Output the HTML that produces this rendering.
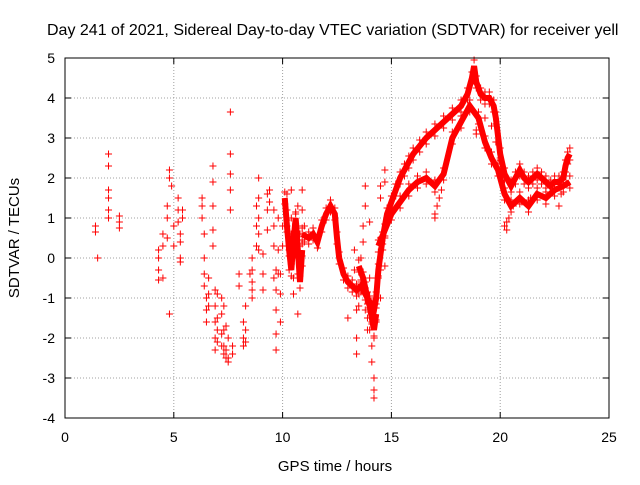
<!DOCTYPE html>
<html><head><meta charset="utf-8"><style>
body{margin:0;background:#fff}
svg{font-family:"Liberation Sans",sans-serif;font-size:14px}
</style></head><body>
<svg id="chart" width="640" height="480">
<text x="47" y="35" font-size="16">Day 241 of 2021, Sidereal Day-to-day VTEC variation (SDTVAR) for receiver yell</text>
<g id="grid"></g>
<g id="ticks"></g>
<g id="trace"></g>
<g id="pts"></g>
<rect x="65" y="58" width="544" height="360" fill="none" stroke="#000" stroke-width="1"/>
<text x="335" y="471" text-anchor="middle" font-size="15">GPS time / hours</text>
<text transform="translate(19,238) rotate(-90)" text-anchor="middle" font-size="15">SDTVAR / TECUs</text>
</svg>
<script>
const xTicks=[0,5,10,15,20,25];
const yTicks=[-4,-3,-2,-1,0,1,2,3,4,5];
const ptX=[1.4,1.4,1.5,2.0,2.0,2.0,2.0,2.0,2.0,2.5,2.5,2.5,4.3,4.3,4.3,4.3,4.5,4.5,4.5,4.7,4.7,4.7,4.8,4.8,4.8,4.9,5.0,5.0,5.2,5.2,5.2,5.3,5.3,5.3,5.3,5.4,5.4,
6.3,6.3,6.3,6.4,6.4,6.4,6.4,6.5,6.5,6.5,6.6,6.6,6.6,6.8,6.8,6.8,6.8,6.8,6.9,6.9,6.9,6.9,6.9,7.0,7.0,7.0,7.0,7.2,7.2,7.2,7.2,7.3,7.3,7.3,7.3,7.4,7.4,7.4,7.5,7.5,7.5,7.6,7.6,7.6,7.6,7.6,7.7,7.7,8.0,8.0,8.2,8.2,8.2,8.3,8.3,8.3,8.5,8.6,8.6,8.6,8.6,8.6,8.8,8.8,8.8,8.9,8.9,8.9,8.9,8.9,9.1,9.1,9.1,9.3,9.3,9.3,9.4,9.4,9.6,9.6,9.6,9.6,9.7,9.7,9.7,9.7,9.7,9.8,9.8,9.8,9.9,9.9,9.9,10.0,10.0,
10.2,10.2,10.2,10.3,10.3,10.3,10.4,10.4,10.4,10.5,10.5,10.5,10.6,10.6,10.7,10.7,10.7,10.7,10.8,10.8,10.8,10.9,10.9,10.9,10.9,11.0,11.0,
13.0,13.3,13.3,13.4,13.4,13.4,13.5,13.5,13.6,13.6,13.7,13.7,13.7,13.8,13.8,13.8,13.8,13.9,13.9,13.9,14.0,14.0,14.0,14.0,14.1,14.1,14.1,14.2,14.2,14.2,14.2,14.2,14.3,14.3,14.4,14.5,14.5,14.5,14.5,14.5,14.6,14.7,14.7,14.7,14.7,
17.0,17.0,17.1,17.2,17.3,18.9,18.9,20.2,20.3,20.3,20.4,22.7,22.8,21.0,21.4,20.6,19.3,19.6,19.8,20.0];
const ptY=[0.8,0.65,0.0,2.6,2.3,1.7,1.5,1.2,1.0,1.05,0.9,0.75,0.2,0.0,-0.3,-0.55,0.3,0.6,-0.5,1.3,1.0,0.5,2.2,2.0,-1.4,1.8,0.8,0.3,1.5,1.2,0.9,0.6,0.4,0.0,-0.1,1.0,1.2,
1.5,1.3,1.0,0.6,0.0,-0.4,-0.7,-1.0,-1.3,-1.6,-0.5,-0.9,-1.2,2.3,1.9,1.3,0.7,0.3,-0.8,-1.2,-1.6,-2.0,-2.3,-1.8,-2.1,-1.5,-0.9,-1.0,-1.4,-1.9,-2.2,-1.2,-1.8,-2.2,-2.4,-2.3,-2.5,-1.7,-2.0,-2.5,-2.6,3.65,2.6,2.1,1.7,1.2,-2.2,-2.4,-0.4,-0.7,-1.6,-2.0,-2.2,-1.8,-2.1,-1.2,-0.4,0.0,-0.3,-0.8,-1.0,-0.6,0.3,0.8,1.3,0.2,0.6,1.0,2.0,1.5,0.1,-0.4,-0.8,1.6,1.2,0.7,1.7,1.4,1.2,0.8,0.3,-0.5,-0.3,-0.8,-1.3,-1.9,-2.3,-0.4,0.2,1.0,-1.6,-0.9,-0.4,0.3,0.8,
1.6,1.2,0.8,0.5,0.2,-0.3,1.7,1.0,0.6,0.0,-0.5,-0.9,0.3,1.1,1.3,0.8,-0.4,-1.4,0.6,0.3,0.0,1.7,1.2,0.6,-0.2,0.4,0.8,
-1.5,-0.3,0.2,-1.3,-2.0,-2.4,-0.9,-1.2,0.0,-0.6,0.8,0.4,-0.8,1.8,1.3,-0.6,-1.3,-1.0,-1.5,-1.8,-1.3,-1.8,-0.5,0.9,-2.2,-2.6,-1.6,-3.0,-3.3,-3.5,-2.0,-1.0,-1.6,-0.5,-0.5,1.5,1.8,0.5,-0.3,-1.0,0.2,2.2,1.9,0.5,-0.2,
1.1,1.0,1.3,1.5,1.7,3.2,3.1,0.8,0.7,0.9,1.0,1.3,1.6,1.4,1.5,1.3,3.5,3.3,2.9,2.5];
const trAx=[10.9,11.2,11.4,11.6,11.8,12.0,12.2,12.4,12.5,12.6,12.8,13.0,13.2,13.4,13.6,13.8,14.0,14.2,14.3,14.4,14.6,14.8,15.0,15.2,15.4,15.6,15.8,16.0,16.3,16.6,17.0,17.4,17.8,18.2,18.5,18.7,18.8,18.9,19.1,19.3,19.5,19.7,19.8,20.0,20.2,20.5,20.7,20.9,21.1,21.3,21.5,21.7,21.9,22.1,22.3,22.5,22.7,22.9,23.0,23.1,23.2];
const trAy=[0.6,0.5,0.6,0.4,0.8,1.1,1.3,1.1,0.5,0.0,-0.4,-0.6,-0.7,-0.8,-0.7,-0.9,-1.1,-1.3,-1.0,-0.3,0.5,1.1,1.4,1.7,2.0,2.2,2.4,2.6,2.8,3.0,3.2,3.4,3.6,3.8,4.1,4.5,4.8,4.4,4.1,4.0,4.0,3.8,3.5,2.6,2.1,1.8,2.0,2.2,2.0,1.9,2.0,2.1,2.0,1.9,1.8,1.9,1.9,2.0,2.3,2.5,2.6];
const trBx=[14.4,14.7,15.0,15.4,15.8,16.2,16.6,17.0,17.4,17.8,18.2,18.6,19.0,19.3,19.6,19.9,20.2,20.5,20.9,21.3,21.7,22.1,22.5,22.9,23.2];
const trBy=[0.3,0.7,1.1,1.4,1.7,1.9,2.0,1.8,2.1,3.0,3.4,3.8,3.5,2.9,2.5,2.2,1.6,1.3,1.5,1.3,1.6,1.5,1.7,1.8,1.9];
const trCx=[10.1,10.2,10.3,10.4,10.5,10.6,10.7,10.8,10.9];
const trCy=[1.5,0.8,0.2,-0.3,0.4,1.0,0.2,-0.6,0.2];
const trDx=[13.5,13.7,13.9,14.0,14.1,14.2,14.3];
const trDy=[-0.2,-0.5,-1.0,-1.2,-1.5,-1.8,-1.4];
const sx=v=>65+v*544/25, sy=v=>418-(v+4)*40;
const NS='http://www.w3.org/2000/svg';
const grid=document.getElementById('grid'),ticks=document.getElementById('ticks');
function mk(t,a,p){const e=document.createElementNS(NS,t);for(const k in a)e.setAttribute(k,a[k]);p.appendChild(e);return e;}
xTicks.forEach(v=>{const x=sx(v);
 if(v>0&&v<25){const l=mk('line',{x1:x,x2:x,y1:58,y2:418,stroke:'#a0a0a0','stroke-dasharray':'1,2'},grid);
 
 }
 mk('line',{x1:x,x2:x,y1:418,y2:412,stroke:'#000'},ticks);mk('line',{x1:x,x2:x,y1:58,y2:64,stroke:'#000'},ticks);
 const t=mk('text',{x:x,y:442,'text-anchor':'middle'},ticks);t.textContent=v;
 
 });
yTicks.forEach(v=>{const y=sy(v);
 if(v>-4&&v<5){const l=mk('line',{x1:65,x2:609,y1:y,y2:y,stroke:'#a0a0a0','stroke-dasharray':'1,2'},grid);
 
 }
 mk('line',{x1:65,x2:71,y1:y,y2:y,stroke:'#000'},ticks);mk('line',{x1:609,x2:603,y1:y,y2:y,stroke:'#000'},ticks);
 const t=mk('text',{x:55,y:y+5,'text-anchor':'end'},ticks);t.textContent=v;
 
 });
const tr=document.getElementById('trace'),pts=document.getElementById('pts');
[[trAx,trAy,'upper'],[trBx,trBy,'lower'],[trCx,trCy,'strip-10h'],[trDx,trDy,'strip-14h']].forEach(([X,Y,n])=>{
 const p=mk('polyline',{points:X.map((x,i)=>sx(x)+','+sy(Y[i])).join(' '),fill:'none',stroke:'#f00','stroke-width':6,'stroke-linejoin':'miter'},tr);
 
 });
function plus(x,y){const X=sx(x),Y=sy(y);
 const p=mk('path',{d:`M${X-3.5},${Y}H${X+3.5}M${X},${Y-3.5}V${Y+3.5}`,stroke:'#f00','stroke-width':1},pts);
 
 }
ptX.forEach((x,i)=>plus(x,ptY[i]));
[[trAx,trAy],[trBx,trBy],[trCx,trCy],[trDx,trDy]].forEach(([X,Y])=>X.forEach((x,i)=>{plus(x,Y[i]+0.15);plus(x,Y[i]-0.15);}));
</script>
</body></html>
